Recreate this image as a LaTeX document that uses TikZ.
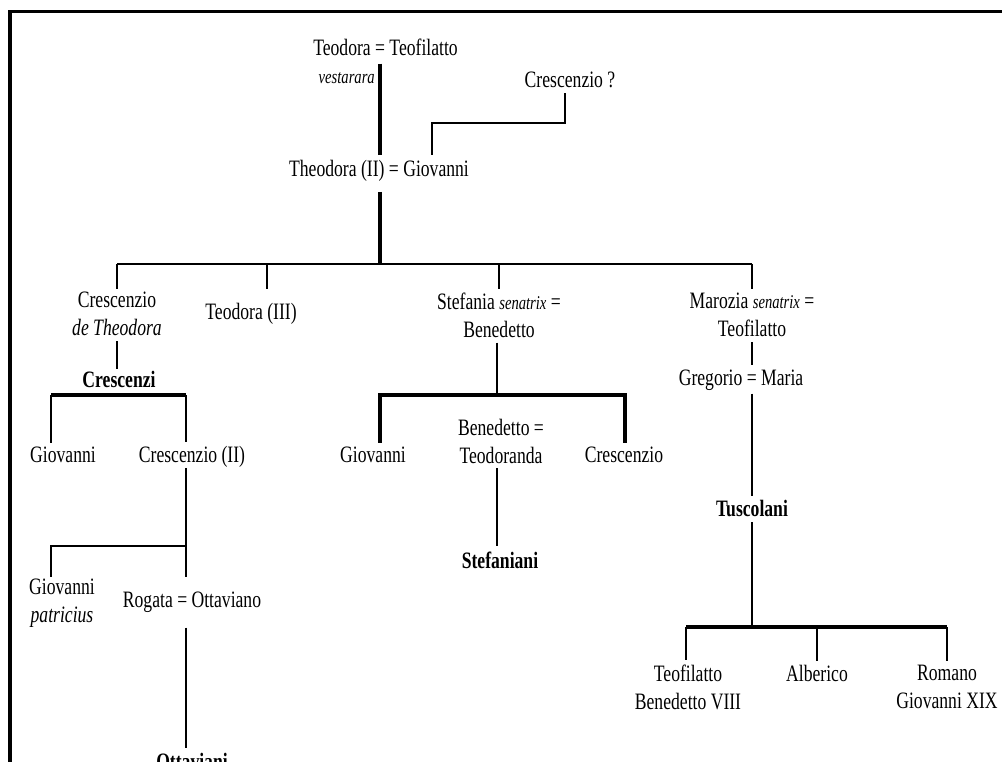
\documentclass[tikz,border=0pt]{standalone}
\usepackage{fontspec}
\setmainfont{Liberation Serif}[FakeStretch=0.75]
\usepackage{tikz}
\usetikzlibrary{positioning, calc}

\newcommand\epit[1]{{\fontsize{19.5}{21}\selectfont\itshape #1}}

\begin{document}
\begin{tikzpicture}[
    x=1pt, y=-1pt,
    pers/.style={
        font=\fontsize{23.5}{28}\selectfont, align=center, inner sep=0pt
    },
    casata/.style={
        pers, font=\fontsize{23.5}{28}\selectfont\bfseries
    },
    titolo/.style={
        font=\fontsize{19.5}{21}\selectfont\itshape, inner sep=0pt
    },
    thinline/.style={line width=1.6pt},
    midline/.style={line width=2.2pt},
    thickline/.style={line width=3.4pt},
    frame/.style={line width=3.2pt}
]

\useasboundingbox (0,0) rectangle (1002,762);
\clip (0,0) rectangle (1002,762);

% Frame
\draw[frame] (10,770) -- (10,11.7) -- (1010,11.7);

% Top generations
\node[pers] (tt) at (385.5,47) {Teodora = Teofilatto};
\node[titolo, anchor=east] (vest) at (375,78) {vestarara};
\node[pers] (cq) at (570,80) {Crescenzio ?};
\node[pers] (th2) at (379,171) {Theodora (II) = Giovanni};

% Children of Theodora (II)
\node[pers] (cdt) at (117,314) {Crescenzio\\\textit{de Theodora}};
\node[pers] (t3) at (251,314) {Teodora (III)};
\node[pers] (ste) at (499,315) {Stefania \epit{senatrix} =\\Benedetto};
\node[pers] (mar) at (752,315) {Marozia \epit{senatrix} =\\Teofilatto};

% Crescenzi
\node[casata] (crz) at (119,379) {Crescenzi};
\node[pers] (gio1) at (63,455) {Giovanni};
\node[pers] (cr2) at (192,457) {Crescenzio (II)};
\node[pers] (gp) at (62,603) {Giovanni\\\textit{patricius}};
\node[pers] (ro) at (192,602) {Rogata = Ottaviano};
\node[casata] (ott) at (192,761) {Ottaviani};

% Stefaniani
\node[pers] (gio2) at (373,455) {Giovanni};
\node[pers] (bt) at (501,441) {Benedetto =\\Teodoranda};
\node[pers] (cre) at (624,455) {Crescenzio};
\node[casata] (stn) at (500,560) {Stefaniani};

% Tuscolani
\node[pers] (gm) at (741,380) {Gregorio = Maria};
\node[casata] (tus) at (752,508) {Tuscolani};
\node[pers] (tb) at (688,687) {Teofilatto\\Benedetto VIII};
\node[pers] (alb) at (817,673) {Alberico};
\node[pers] (rg) at (947,687) {Romano\\Giovanni XIX};

% Forks
\coordinate (f0) at (380,264);
\coordinate (d3) at (267,289);
\coordinate (f1) at (432,123);
\coordinate (f2a) at (51,395);
\coordinate (f2b) at (186,395);
\coordinate (f3) at (186,546);
\coordinate (d5) at (51,577);
\coordinate (sf) at (497,395);
\coordinate (f4a) at (380,395);
\coordinate (f4b) at (625,395);
\coordinate (f5) at (752,627);
\coordinate (f5a) at (686,627);
\coordinate (f5b) at (947,627);

% Teodora = Teofilatto -> Theodora (II)
\draw[thickline, shorten <=8pt, shorten >=5pt] (tt.south -| f0) -- (th2.north -| f0);
\draw[midline, shorten >=5pt] ([xshift=-5pt, yshift=-5pt]cq.south) |- (f1) -- (th2.north -| f1);

% Theodora (II) -> children
\draw[thickline, shorten <=10pt] (th2.south -| f0) -- (f0);
\draw[thinline] (cdt.north |- f0) -- (mar.north |- f0);
\draw[thinline] (cdt.north |- f0) -- (cdt.north |- d3);
\draw[thinline] (d3 |- f0) -- (d3);
\draw[thinline] (ste.north |- f0) -- (ste.north |- d3);
\draw[thinline] (mar.north |- f0) -- (mar.north |- d3);

% Crescenzi
\draw[thinline, shorten <=5pt, shorten >=2pt] (cdt.south) -- (cdt.south |- crz.north);
\draw[thickline] (f2a) -- (f2b);
\draw[thinline, shorten >=4pt] (f2a) -- (f2a |- gio1.north);
\draw[thinline, shorten >=4pt] (f2b) -- (f2b |- cr2.north);
\draw[thinline] (cr2.south -| f3) -- (f3 |- d5);
\draw[thinline] (f3) -| (d5);
\draw[thinline, shorten <=15pt, shorten >=5pt] (ro.south -| f3) -- (ott.north -| f3);

% Stefaniani
\draw[thinline, shorten <=5pt] (ste.south -| sf) -- (sf);
\draw[thickline, shorten <=4pt, shorten >=4pt] (f4a |- gio2.north) -- (f4a) -- (f4b) -- (f4b |- cre.north);
\draw[thinline, shorten <=5pt, shorten >=5pt] (bt.south -| sf) -- (stn.north -| sf);

% Tuscolani
\draw[thinline, shorten <=5pt, shorten >=4pt] (mar.south) -- (mar.south |- gm.north);
\draw[thinline, shorten <=3pt, shorten >=4pt] (gm.south -| mar) -- (tus.north -| mar);
\draw[thinline, shorten <=6pt] (tus.south) -- (f5);
\draw[thickline] (f5a) -- (f5b);
\draw[thinline, shorten >=4pt] (f5a) -- (f5a |- tb.north);
\draw[thinline, shorten >=4pt] (alb.north |- f5) -- (alb.north);
\draw[thinline, shorten >=4pt] (f5b) -- (f5b |- rg.north);

\end{tikzpicture}
\end{document}
